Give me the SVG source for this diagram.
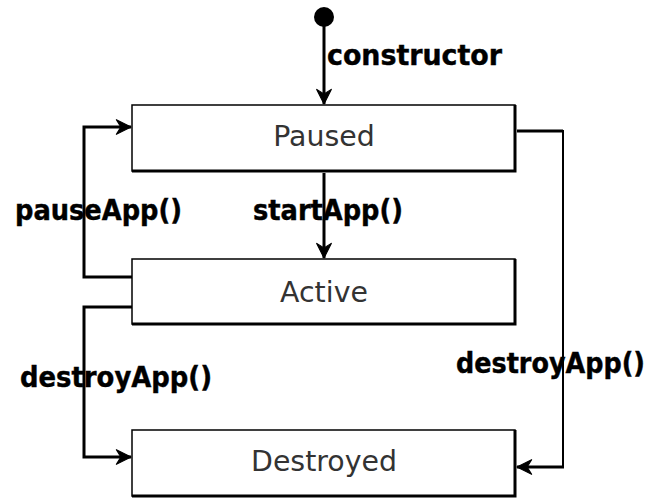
<svg xmlns="http://www.w3.org/2000/svg" width="648" height="498" viewBox="0 0 648 498">
  <style>
    .box { fill: #ffffff; stroke: #000000; stroke-width: 1.5; }
    .shade { fill: none; stroke: #000000; stroke-width: 3; }
    .state { font-family: "DejaVu Sans", "Liberation Sans", sans-serif; font-size: 28.4px; fill: #333333; text-anchor: middle; }
    .edge { fill: none; stroke: #000000; stroke-width: 3; }
    .thin { stroke-width: 2; }
    .lbl { font-family: "DejaVu Sans Condensed", "DejaVu Sans", sans-serif; font-stretch: condensed; font-weight: bold; font-size: 28px; fill: #000000; stroke: #000000; stroke-width: 0.4; }
  </style>
  <defs>
    <marker id="arrow" markerUnits="userSpaceOnUse" markerWidth="20" markerHeight="18" viewBox="-15 -8 16 16" refX="0" refY="0" orient="auto">
      <path d="M0,0 L-13,-6.5 L-9,0 L-13,6.5 Z" fill="#000000" stroke="#000000" stroke-width="1" stroke-linejoin="round"/>
    </marker>
  </defs>

  <!-- transitions -->
  <g id="connectors">
    <circle cx="324" cy="17" r="10" fill="#000000"/>
    <line class="edge" x1="324" y1="20" x2="324" y2="104" marker-end="url(#arrow)"/>
    <line class="edge" x1="324" y1="173" x2="324" y2="258" marker-end="url(#arrow)"/>
    <polyline class="edge" points="132,277 84,277 84,127 131,127" marker-end="url(#arrow)"/>
    <polyline class="edge" points="132,307 84,307 84,457 131,457" marker-end="url(#arrow)"/>
    <polyline class="edge" points="517,131 563,131"/>
    <polyline class="edge thin" points="563,130 563,467"/>
    <polyline class="edge" points="564,467 517,467" marker-end="url(#arrow)"/>
    <text class="lbl" x="327" y="65" textLength="175" lengthAdjust="spacingAndGlyphs">constructor</text>
    <text class="lbl" x="253" y="220" textLength="150" lengthAdjust="spacingAndGlyphs">startApp()</text>
    <text class="lbl" x="15" y="220" textLength="167" lengthAdjust="spacingAndGlyphs">pauseApp()</text>
    <text class="lbl" x="20" y="387" textLength="192" lengthAdjust="spacingAndGlyphs">destroyApp()</text>
    <text class="lbl" x="456" y="373" textLength="189" lengthAdjust="spacingAndGlyphs">destroyApp()</text>
  </g>

  <g id="paused">
    <rect class="box" x="132" y="105" width="383" height="66"/>
    <polyline class="shade" points="515,105 515,171 132,171"/>
    <text class="state" x="324" y="146">Paused</text>
  </g>

  <g id="active">
    <rect class="box" x="132" y="259" width="383" height="65"/>
    <polyline class="shade" points="515,259 515,324 132,324"/>
    <text class="state" x="324" y="302">Active</text>
  </g>

  <g id="destroyed">
    <rect class="box" x="132" y="430" width="383" height="66"/>
    <polyline class="shade" points="515,430 515,496 132,496"/>
    <text class="state" x="324" y="471">Destroyed</text>
  </g>
</svg>
